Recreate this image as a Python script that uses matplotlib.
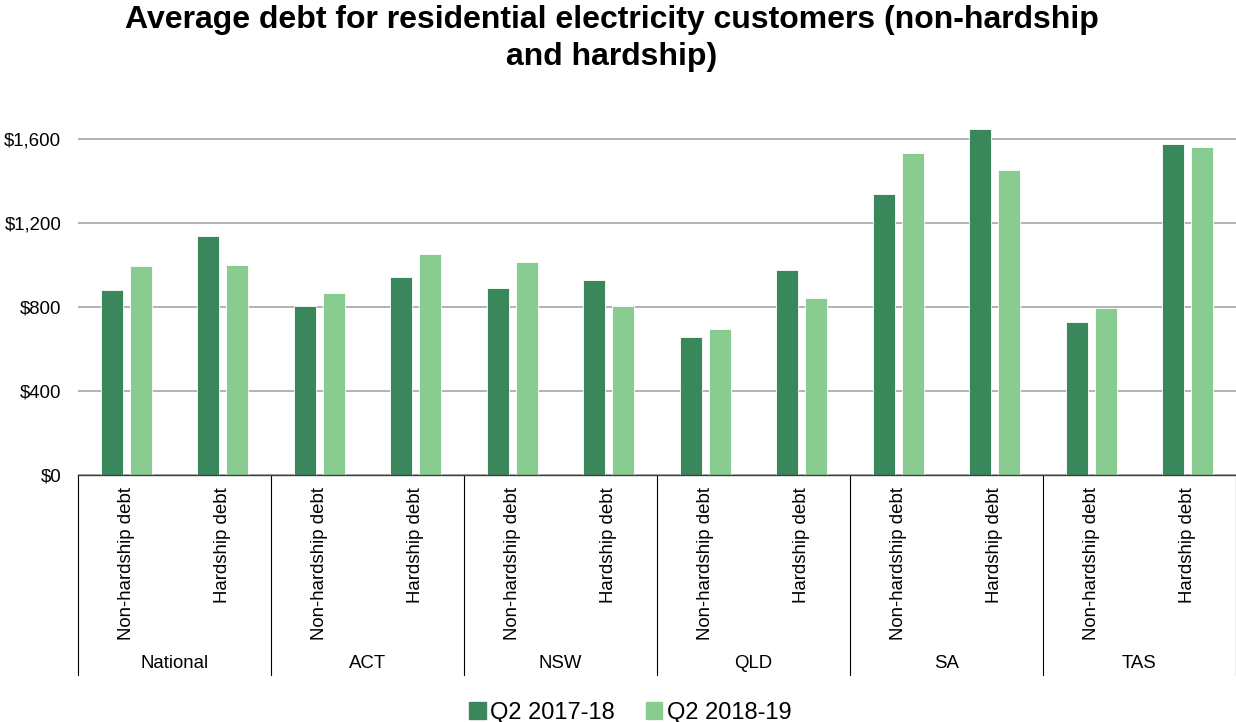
import numpy as np
import matplotlib.pyplot as plt
from matplotlib.ticker import FuncFormatter
from matplotlib.patches import Patch

plt.rcParams['font.family'] = ['Liberation Sans', 'DejaVu Sans']

regions = ['National', 'ACT', 'NSW', 'QLD', 'SA', 'TAS']
debt_types = ['Non-hardship debt', 'Hardship debt']
series_names = ['Q2 2017-18', 'Q2 2018-19']

# values per region: (non-hardship, hardship)
q2_2017_18 = [881, 1138, 805, 943, 890, 929, 657, 976, 1338, 1648, 729, 1576]
q2_2018_19 = [995, 1000, 867, 1052, 1014, 805, 695, 843, 1533, 1452, 795, 1562]

dark = '#3a875c'
light = '#88cc91'

fig = plt.figure(figsize=(12.36, 7.22), dpi=100)
ax = fig.add_axes([78 / 1236, 1 - 475 / 722, 1 - 78 / 1236, 357 / 722])

x = np.arange(len(q2_2017_18))
w = 0.228
off = 0.148
ax.bar(x - off, q2_2017_18, w, color=dark, edgecolor='white', linewidth=0.6,
       zorder=3)
ax.bar(x + off, q2_2018_19, w, color=light, edgecolor='white', linewidth=0.6,
       zorder=3)

ax.set_xlim(-0.5, len(x) - 0.5)
ax.set_ylim(0, 1700)
ax.set_yticks([0, 400, 800, 1200, 1600])
ax.yaxis.set_major_formatter(FuncFormatter(lambda v, p: '${:,.0f}'.format(v)))
ax.grid(axis='y', color='#a6a6a6', linewidth=1.2, zorder=0)
ax.set_axisbelow(True)
for s in ['top', 'right', 'left']:
    ax.spines[s].set_visible(False)
ax.spines['bottom'].set_color('#404040')
ax.spines['bottom'].set_linewidth(1.0)
ax.spines['bottom'].set_zorder(4)
ax.tick_params(axis='y', length=0, pad=12, labelsize=13.4)

ax.set_xticks(x)
ax.set_xticklabels(debt_types * len(regions), rotation=90, va='top',
                   fontsize=13.4)
ax.tick_params(axis='x', length=0, pad=9)

trans = ax.get_xaxis_transform()
for i in range(len(regions) + 1):
    xb = i * 2 - 0.5
    ax.plot([xb, xb], [0, -0.56], color='black', linewidth=0.8,
            transform=trans, clip_on=False)
for i, r in enumerate(regions):
    ax.text(i * 2 + 0.5, -0.529, r, transform=trans, ha='center', va='center',
            fontsize=13.4)

fig.suptitle('Average debt for residential electricity customers (non-hardship\nand hardship)',
             x=0.495, y=0.993, fontsize=23, fontweight='bold', linespacing=1.32)

handles = [Patch(color=dark), Patch(color=light)]
fig.legend(handles, series_names, loc='lower center', ncol=2, frameon=False,
           bbox_to_anchor=(0.51, -0.032), fontsize=17, handlelength=0.7,
           handleheight=0.7, handletextpad=0.2, columnspacing=1.3)

fig.savefig('out.png', dpi=100)
